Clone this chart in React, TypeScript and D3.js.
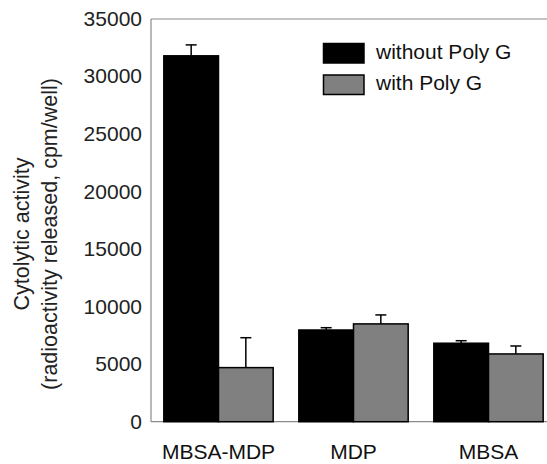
import React from "react";
import * as d3 from "d3";

const categories = ["MBSA-MDP", "MDP", "MBSA"];
const seriesNames = ["without Poly G", "with Poly G"];
const withoutPolyG = [31800, 7970, 6820];
const withoutPolyGErr = [950, 200, 220];
const withPolyG = [4700, 8500, 5890];
const withPolyGErr = [2600, 780, 690];
const yTicks = [0, 5000, 10000, 15000, 20000, 25000, 30000, 35000];

const W = 547;
const H = 464;
const margin = { top: 19, left: 151, bottom: 42.3 };
const font = "Arial, 'Liberation Sans', sans-serif";
const colors = ["#000000", "#808080"];

export default function App() {
  const y = d3
    .scaleLinear()
    .domain([0, 35000])
    .range([H - margin.bottom, margin.top]);

  const x0 = d3
    .scaleBand()
    .domain(categories)
    .range([margin.left, margin.left + 405])
    .paddingInner(0.19)
    .paddingOuter(0.095);

  const x1 = d3
    .scaleBand()
    .domain(seriesNames)
    .range([0, x0.bandwidth()]);

  const series = [
    { name: seriesNames[0], values: withoutPolyG, errs: withoutPolyGErr },
    { name: seriesNames[1], values: withPolyG, errs: withPolyGErr },
  ];

  const y0 = y(0);
  const axisColor = "#8a8a8a";

  return (
    <svg
      width={W}
      height={H}
      style={{ position: "absolute", left: 0, top: 0, background: "#fff" }}
      fontFamily={font}
    >
      {/* frame: left, top, bottom */}
      <line x1={margin.left} x2={margin.left} y1={margin.top} y2={y0} stroke={axisColor} strokeWidth={1.2} />
      <line x1={margin.left} x2={W} y1={margin.top} y2={margin.top} stroke={axisColor} strokeWidth={1.2} />
      <line x1={margin.left} x2={W} y1={y0} y2={y0} stroke={axisColor} strokeWidth={1.2} />

      {yTicks.map((t) => (
        <text key={t} x={margin.left - 9} y={y(t)} dy="0.33em" textAnchor="end" fontSize={21} fill="#222">
          {t}
        </text>
      ))}

      <g transform={`translate(29, ${234}) rotate(-90)`}>
        <text textAnchor="middle" fontSize={21.5} fill="#222">
          Cytolytic activity
        </text>
        <text y={27.5} textAnchor="middle" fontSize={21.5} fill="#222">
          (radioactivity released, cpm/well)
        </text>
      </g>

      {series.map((s, si) =>
        categories.map((c, ci) => {
          const bx = (x0(c) ?? 0) + (x1(s.name) ?? 0);
          const bw = x1.bandwidth();
          const v = s.values[ci];
          const top = y(v);
          const errTop = y(v + s.errs[ci]);
          const cx = bx + bw / 2;
          return (
            <g key={`${si}-${ci}`}>
              <line x1={cx} x2={cx} y1={top} y2={errTop} stroke="#000" strokeWidth={1.5} />
              <line x1={cx - 5.5} x2={cx + 5.5} y1={errTop} y2={errTop} stroke="#000" strokeWidth={1.5} />
              <rect
                x={bx}
                y={top}
                width={bw}
                height={y0 - top}
                fill={colors[si]}
                stroke="#000"
                strokeWidth={1.5}
              />
            </g>
          );
        })
      )}

      {categories.map((c) => (
        <text
          key={c}
          x={(x0(c) ?? 0) + x0.bandwidth() / 2}
          y={459}
          textAnchor="middle"
          fontSize={21}
          fill="#111"
        >
          {c}
        </text>
      ))}

      {seriesNames.map((n, i) => (
        <g key={n} transform={`translate(323.5, ${43.5 + i * 31.5})`}>
          <rect width={40.5} height={19.5} fill={colors[i]} stroke="#000" strokeWidth={1.5} />
          <text x={52.5} y={15} fontSize={21} fill="#111">
            {n}
          </text>
        </g>
      ))}
    </svg>
  );
}
